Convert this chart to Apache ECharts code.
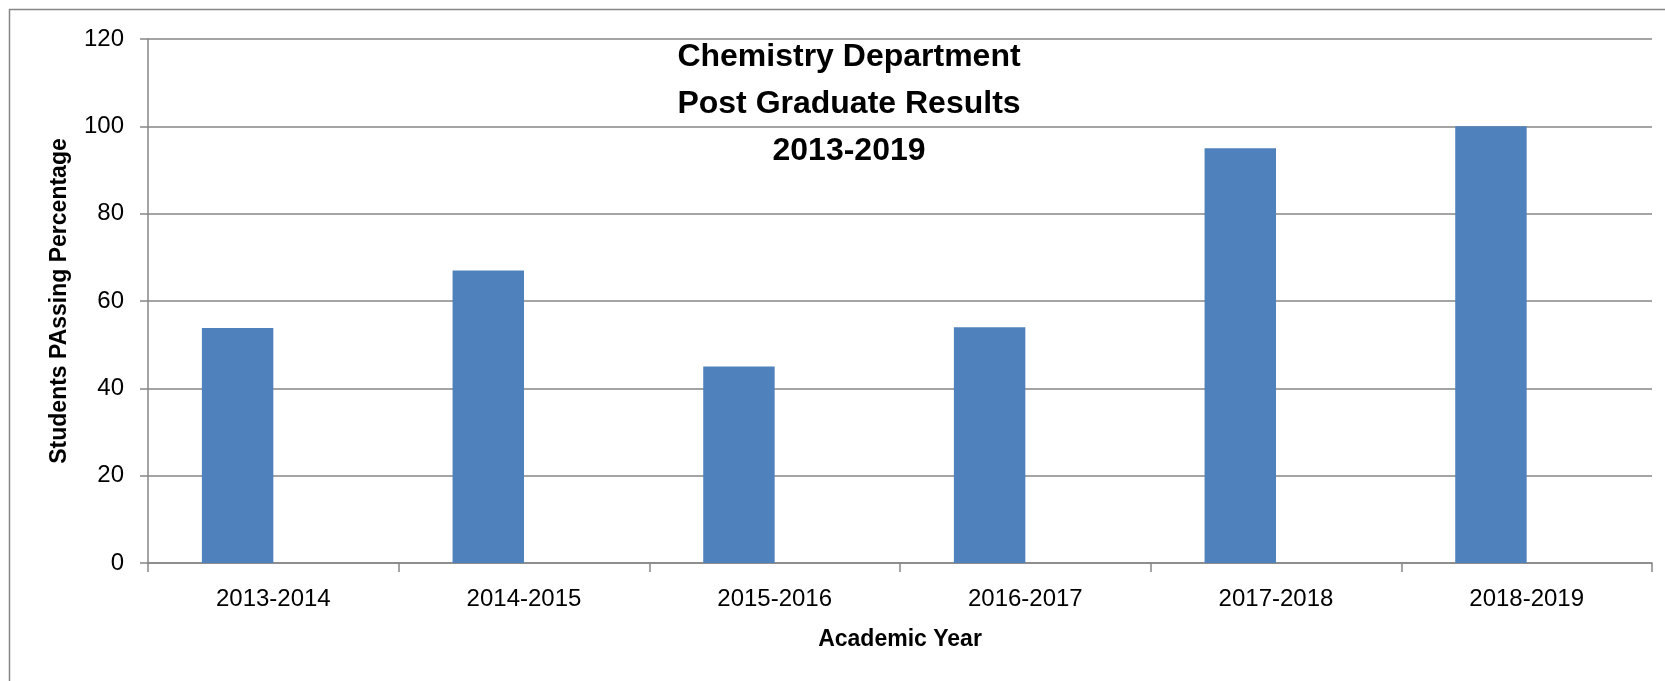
<!DOCTYPE html>
<html>
<head>
<meta charset="utf-8">
<script src="https://cdn.jsdelivr.net/npm/echarts@6/dist/echarts.min.js"></script>
<style>
html,body{margin:0;padding:0;background:#fff;}
#chart{width:1665px;height:681px;}
</style>
</head>
<body>
<div id="chart"></div>
<script>
const categories = ['2013-2014','2014-2015','2015-2016','2016-2017','2017-2018','2018-2019'];
const passingValues = [53.8, 67, 45, 54, 95, 100];
const secondSeriesValues = [];
const yTicks = {min: 0, max: 120, interval: 20};
const titleLines = ['Chemistry Department', 'Post Graduate Results', '2013-2019'];

const FONT = '"Liberation Sans", Arial, sans-serif';
const GRID_COLOR = '#868686';

const chart = echarts.init(document.getElementById('chart'), null, {renderer: 'canvas'});
chart.setOption({
  animation: false,
  backgroundColor: '#ffffff',
  textStyle: {fontFamily: FONT},
  title: {
    text: titleLines.join('\n'),
    left: 844,
    top: 29,
    textAlign: 'center',
    textStyle: {fontFamily: FONT, fontSize: 32, fontWeight: 'bold', color: '#000', lineHeight: 47}
  },
  graphic: [{
    type: 'rect',
    shape: {x: 9.5, y: 9.5, width: 1700, height: 700},
    style: {fill: 'none', stroke: GRID_COLOR, lineWidth: 1.5},
    silent: true,
    z: -1
  }],
  grid: {left: 148, right: 13, top: 39, bottom: 118, containLabel: false},
  xAxis: {
    type: 'category',
    data: categories,
    name: 'Academic Year',
    nameLocation: 'middle',
    nameGap: 65,
    nameTextStyle: {fontFamily: FONT, fontSize: 23, fontWeight: 'bold', color: '#000'},
    axisLine: {show: true, lineStyle: {color: GRID_COLOR, width: 1.5}},
    axisTick: {show: true, length: 9, lineStyle: {color: GRID_COLOR, width: 1.5}},
    axisLabel: {fontFamily: FONT, fontSize: 24, color: '#000', margin: 24},
    splitLine: {show: false}
  },
  yAxis: {
    type: 'value',
    min: yTicks.min,
    max: yTicks.max,
    interval: yTicks.interval,
    name: 'Students PAssing Percentage',
    nameLocation: 'middle',
    nameGap: 77,
    nameRotate: 90,
    nameTextStyle: {fontFamily: FONT, fontSize: 23, fontWeight: 'bold', color: '#000'},
    axisLine: {show: true, lineStyle: {color: GRID_COLOR, width: 1.5}},
    axisTick: {show: true, length: 8, lineStyle: {color: GRID_COLOR, width: 1.5}},
    axisLabel: {fontFamily: FONT, fontSize: 24, color: '#000', margin: 24},
    splitLine: {show: true, lineStyle: {color: GRID_COLOR, width: 1.5}}
  },
  series: [
    {
      type: 'bar',
      name: 'Passing',
      data: passingValues,
      barGap: '0%',
      barCategoryGap: '43%',
      itemStyle: {color: '#4F81BD'}
    },
    {
      type: 'bar',
      name: 'Series 2',
      data: secondSeriesValues,
      barGap: '0%',
      barCategoryGap: '43%',
      itemStyle: {color: '#C0504D'}
    }
  ]
});
</script>
</body>
</html>
